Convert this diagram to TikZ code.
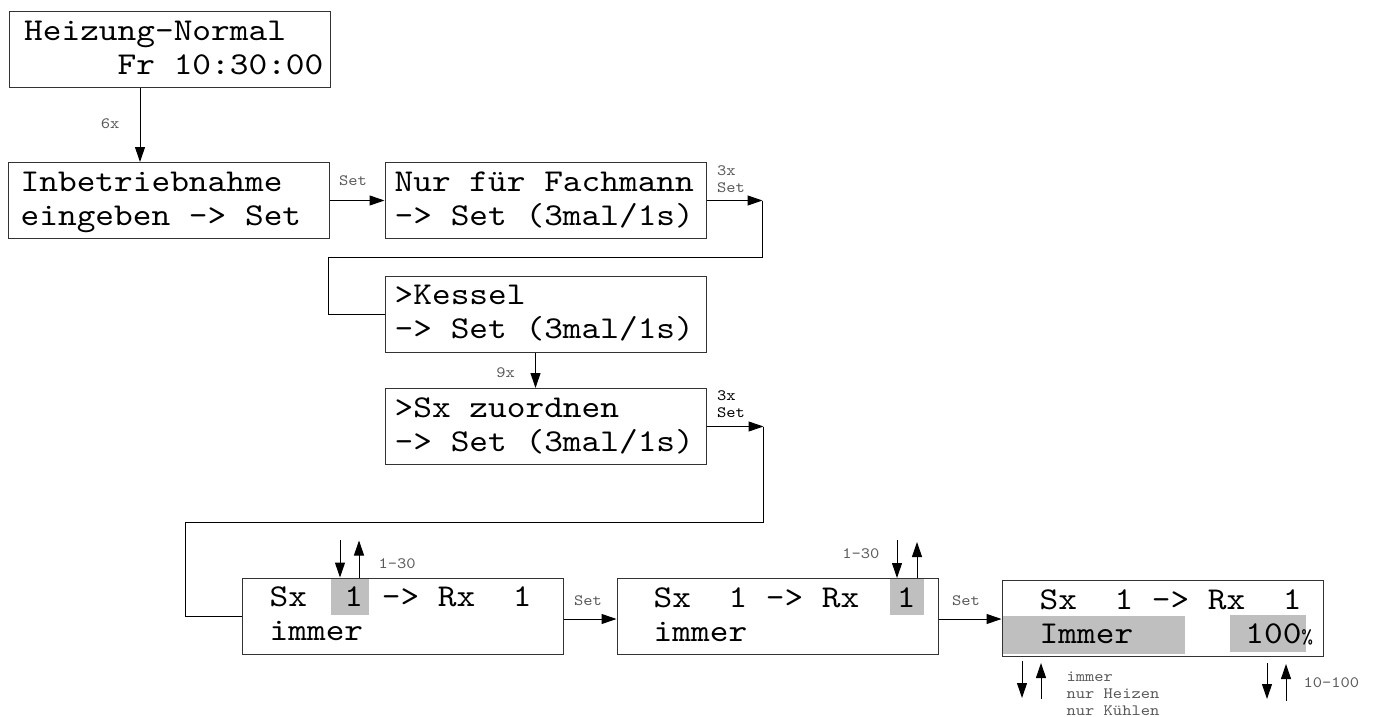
\documentclass[tikz,border=0pt]{standalone}
\usepackage{fontspec}
\newfontfamily\lcdfont[FakeStretch=1.12]{lmmono10-regular.otf}
\usetikzlibrary{arrows.meta,positioning,calc,backgrounds}
\newcommand\lcdstrut{\rule{0pt}{27pt}}

\begin{document}
\begin{tikzpicture}[
    x=1pt, y=-1pt,
    screen/.style={draw=black!80, line width=1pt, minimum width=321pt, minimum height=76pt, inner sep=0pt},
    lcd/.style={anchor=north west, inner sep=0pt, align=left, font=\fontsize{31.8}{34}\lcdfont},
    lbl/.style={inner sep=0pt, align=left, font=\fontsize{15.8}{17}\lcdfont, text=black!65},
    hl/.style={fill=black!25},
    arr/.style={-{Triangle[length=15pt,width=10pt]}, line width=1pt},
    rarr/.style={{Triangle[length=15pt,width=10pt]}-, line width=1pt},
    line/.style={line width=1pt}
]
\useasboundingbox (0,0) rectangle (1374,717);

\node[screen] (heiz) at (169.5,50) {};
\node[screen] (inbe) at (168.5,200.5) {};
\node[screen] (fach) at (545.5,200.5) {};
\node[screen] (kessel) at (545.5,314) {};
\node[screen] (zuord) at (545.5,426.5) {};
\node[screen] (sxa) at (402.5,616) {};
\node[screen] (sxb) at (777.5,616.5) {};
\node[screen] (sxc) at (1162.5,618.5) {};

\node[lcd] (heiztxt) at ($(heiz.north west)+(15.5,2)$) {\lcdstrut Heizung-Normal\\\phantom{00000}Fr 10:30:00};
\node[lcd] (inbetxt) at ($(inbe.north west)+(13,2)$) {\lcdstrut Inbetriebnahme\\eingeben -> Set};
\node[lcd] (fachtxt) at ($(fach.north west)+(10,2)$) {\lcdstrut Nur für Fachmann\\-> Set (3mal/1s)};
\node[lcd] (kesseltxt) at ($(kessel.north west)+(10,2)$) {\lcdstrut >Kessel\\-> Set (3mal/1s)};
\node[lcd] (zuordtxt) at ($(zuord.north west)+(10,2)$) {\lcdstrut >Sx zuordnen\\-> Set (3mal/1s)};
\node[lcd] (sxatxt) at ($(sxa.north west)+(28,2)$) {\lcdstrut Sx\ \ 1 -> Rx\ \ 1\\immer};
\node[lcd] (sxbtxt) at ($(sxb.north west)+(37,2)$) {\lcdstrut Sx\ \ 1 -> Rx\ \ 1\\immer};
\node[lcd] (sxctxt) at ($(sxc.north west)+(38,2)$) {\lcdstrut Sx\ \ 1 -> Rx\ \ 1\\Immer\phantom{000000}100{\fontsize{20}{20}\selectfont\%}};

\begin{scope}[on background layer]
\fill[hl] ($(sxa.north west)+(89,0)$) rectangle ($(sxa.north west)+(127,37)$);
\fill[hl] ($(sxb.north west)+(273,0)$) rectangle ($(sxb.north west)+(307,37)$);
\fill[hl] ($(sxc.north west)+(0,36)$) rectangle ($(sxc.north west)+(183,74)$);
\fill[hl] ($(sxc.north west)+(228,35)$) rectangle ($(sxc.north west)+(304,72)$);
\end{scope}

\coordinate (fachout) at ($(fach.east)+(56,0)$);
\coordinate (fachturn) at (328,257);
\coordinate (zuordout) at ($(zuord.east)+(57,0)$);
\coordinate (zuordturn) at (185,522);

\draw[arr] ([xshift=-29.5pt]heiz.south) -- ([xshift=-28.5pt]inbe.north) node[lbl, left=20pt, pos=.48] {6x};
\draw[arr] (inbe.east) -- (fach.west) node[lbl, above right=14pt and 9pt, pos=0] {Set};
\draw[arr] (fach.east) -- (fachout) node[lbl, above right=7pt and 10pt, pos=0] {3x\\Set};
\draw[line] (fachout) |- (fachturn) |- (kessel.west);
\draw[arr] ([xshift=-10pt]kessel.south) -- ([xshift=-10pt]zuord.north) node[lbl, left=20pt, pos=.57] {9x};
\draw[arr] (zuord.east) -- (zuordout) node[lbl, text=black, above right=8pt and 10pt, pos=0] {3x\\Set};
\draw[line] (zuordout) |- (zuordturn) |- (sxa.west);
\draw[arr] ([yshift=-3pt]sxa.east) -- ([yshift=-3pt]sxa.east -| sxb.west) node[lbl, above right=13pt and 10pt, pos=0] {Set};
\draw[arr] ([yshift=-2.5pt]sxb.east) -- ([yshift=-2.5pt]sxb.east -| sxc.west) node[lbl, above right=13pt and 13pt, pos=0] {Set};

\draw[rarr] ([xshift=-62.5pt]sxa.north) -- ++(0,-38);
\draw[arr] ([xshift=-43.5pt]sxa.north) -- ++(0,-37) node[lbl, right=19pt, pos=.38] {1-30};
\draw[rarr] ([xshift=119.5pt]sxb.north) -- ++(0,-38) node[lbl, left=17pt, pos=.63] {1-30};
\draw[arr] ([xshift=139.5pt]sxb.north) -- ++(0,-36);
\draw[arr] ([xshift=-140.5pt,yshift=-4pt]sxc.south) -- ++(0,37);
\draw[rarr] ([xshift=-121.5pt,yshift=-6pt]sxc.south) -- ++(0,36) node[lbl, right=25pt, pos=.86] {immer\\nur Heizen\\nur Kühlen};
\draw[arr] ([xshift=104.5pt,yshift=-6pt]sxc.south) -- ++(0,36);
\draw[rarr] ([xshift=123.5pt,yshift=-7pt]sxc.south) -- ++(0,37) node[lbl, right=17pt, pos=.5] {10-100};
\end{tikzpicture}
\end{document}
